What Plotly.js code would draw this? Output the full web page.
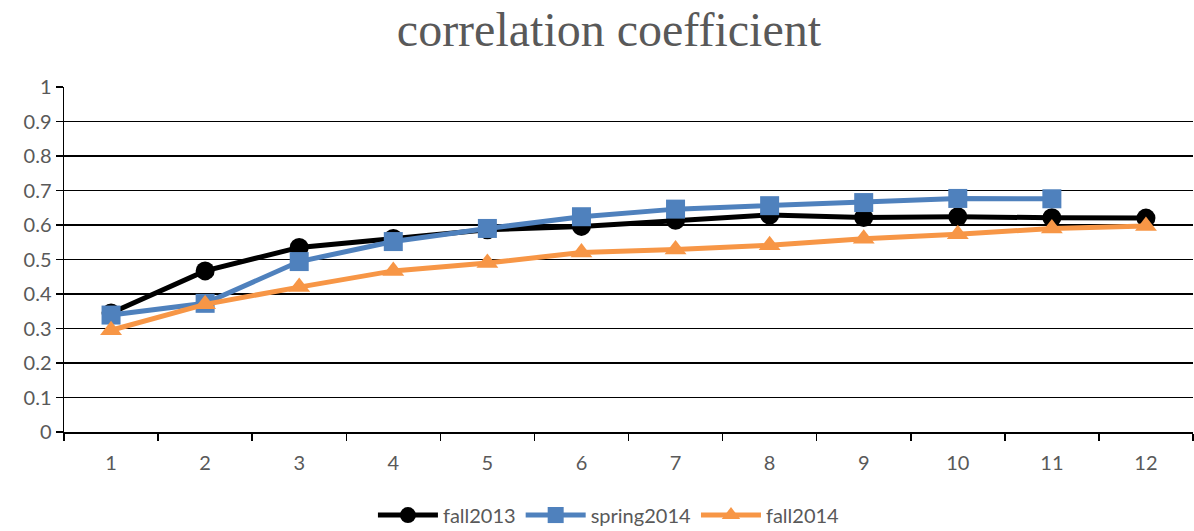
<!DOCTYPE html>
<html>
<head>
<meta charset="utf-8">
<script src="https://cdn.plot.ly/plotly-3.0.1.min.js"></script>
<style>
  html, body { margin: 0; padding: 0; background: #fff; }
  #chart { width: 1194px; height: 531px; }
</style>
</head>
<body>
<div id="chart"></div>
<script>
// Terms (x categories)
const terms = [1, 2, 3, 4, 5, 6, 7, 8, 9, 10, 11, 12];

// Correlation coefficient per term, by cohort
const fall2013   = [0.345, 0.467, 0.535, 0.561, 0.586, 0.596, 0.614, 0.629, 0.622, 0.624, 0.621, 0.620];
const spring2014 = [0.339, 0.373, 0.494, 0.552, 0.590, 0.624, 0.646, 0.656, 0.665, 0.677, 0.676];
const fall2014   = [0.295, 0.370, 0.420, 0.467, 0.490, 0.520, 0.529, 0.541, 0.560, 0.573, 0.590, 0.597];

const yTicks = [0, 0.1, 0.2, 0.3, 0.4, 0.5, 0.6, 0.7, 0.8, 0.9, 1];
const yTickText = ['0', '0.1', '0.2', '0.3', '0.4', '0.5', '0.6', '0.7', '0.8', '0.9', '1'];

const tickFont = { family: 'Lato, "Liberation Sans", sans-serif', size: 20, color: '#595959' };
const legendFont = { family: 'Lato, "Liberation Sans", sans-serif', size: 20, color: '#595959' };

function series(name, ys, color, symbol) {
  return {
    type: 'scatter',
    mode: 'lines+markers',
    name: name,
    x: terms.slice(0, ys.length),
    y: ys,
    line: { color: color, width: 5 },
    marker: { color: color, symbol: symbol, size: 19 }
  };
}

const data = [
  series('fall2013', fall2013, '#000000', 'circle'),
  series('spring2014', spring2014, '#4F81BD', 'square'),
  series('fall2014', fall2014, '#F79646', 'triangle-up')
];

const layout = {
  width: 1194,
  height: 531,
  margin: { l: 64, r: 1, t: 87, b: 99, autoexpand: false },
  paper_bgcolor: '#ffffff',
  plot_bgcolor: '#ffffff',
  title: {
    text: 'correlation coefficient',
    font: { family: '"Liberation Serif", "Times New Roman", serif', size: 48, color: '#595959' },
    x: 0.51,
    xanchor: 'center',
    xref: 'container',
    yref: 'container',
    y: 0.945,
    yanchor: 'middle'
  },
  xaxis: {
    range: [0.5, 12.5],
    tickmode: 'array',
    tickvals: terms,
    ticktext: terms.map(String),
    ticks: '',
    ticklabelstandoff: 12,
    showgrid: false,
    zeroline: false,
    showline: true,
    linecolor: '#000000',
    linewidth: 1.5,
    tickfont: tickFont,
    minor: { tick0: 0.5, dtick: 1, ticks: 'outside', ticklen: 7, tickwidth: 1.5, tickcolor: '#000000', showgrid: false }
  },
  yaxis: {
    range: [0, 1],
    tickmode: 'array',
    tickvals: yTicks,
    ticktext: yTickText,
    ticks: 'outside',
    ticklen: 7,
    tickwidth: 1.5,
    tickcolor: '#000000',
    showgrid: true,
    gridcolor: '#000000',
    gridwidth: 1.5,
    zeroline: false,
    showline: true,
    linecolor: '#000000',
    linewidth: 1.5,
    tickfont: tickFont
  },
  showlegend: true,
  legend: {
    orientation: 'h',
    x: 0.51,
    xanchor: 'center',
    xref: 'container',
    yref: 'container',
    y: 0.03,
    yanchor: 'middle',
    font: legendFont,
    itemwidth: 60
  }
};

Plotly.newPlot('chart', data, layout, { displayModeBar: false, staticPlot: true });
</script>
</body>
</html>
